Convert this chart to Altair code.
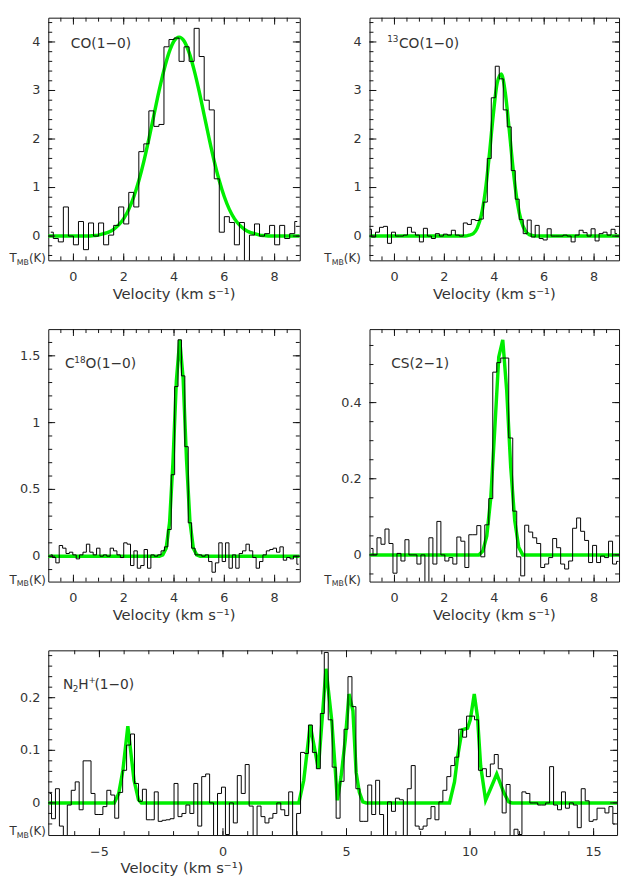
import altair as alt
import pandas as pd

FONT = "DejaVu Sans"
TXT = "#333333"
INK = "#111111"
GREEN = "#00ee00"

# ---------------- spectra ----------------
# channel centres are V0 + i*DV ; T = main-beam temperature (K)
CO_V0, CO_DV = -0.9, 0.2
CO_T = [0.08, -0.05, -0.12, 0.6, 0.0, -0.18, 0.3, -0.28, 0.27, 0.0,
        0.27, -0.18, 0.02, 0.22, 0.6, 0.25, 0.9, 0.6, 1.74, 1.9,
        2.58, 2.26, 2.3, 3.9, 4.05, 4.08, 3.6, 3.9, 3.6, 4.28,
        3.7, 2.8, 2.6, 1.18, 0.08, 0.4, 0.28, -0.18, 0.28, -0.6,
        0.02, 0.25, 0.0, 0.05, 0.22, -0.18, 0.22, -0.05, 0.05, 0.3]
CO_FIT_V = [-1.0, 0.6, 0.8, 1.0, 1.2, 1.4, 1.6, 1.8, 2.0, 2.2, 2.4, 2.6, 2.8,
            3.0, 3.2, 3.4, 3.6, 3.8, 4.0, 4.2, 4.4, 4.6, 4.8, 5.0, 5.2, 5.4,
            5.6, 5.8, 6.0, 6.2, 6.4, 6.6, 6.8, 7.0, 7.2, 7.4, 7.6, 7.8, 9.0]
CO_FIT_T = [0.0, 0.0, 0.01, 0.02, 0.05, 0.08, 0.14, 0.23, 0.36, 0.55, 0.81, 1.14, 1.54,
            2.00, 2.49, 2.98, 3.42, 3.78, 4.02, 4.10, 4.02, 3.78, 3.42, 2.98, 2.49, 2.00,
            1.54, 1.14, 0.81, 0.55, 0.36, 0.23, 0.14, 0.08, 0.05, 0.02, 0.01, 0.0, 0.0]

C13O_V0, C13O_DV = -1.0, 0.16
C13O_T = [0.14, -0.02, 0.08, 0.18, 0.2, -0.15, 0.08, 0.0, 0.0, 0.02,
          0.18, 0.08, 0.02, -0.12, 0.16, 0.0, -0.05, 0.05, 0.0, 0.04,
          0.02, 0.12, 0.02, 0.0, 0.27, 0.24, 0.34, 0.32, 0.35, 0.7,
          1.6, 2.85, 3.5, 3.24, 2.6, 2.25, 1.35, 0.76, 0.34, 0.05,
          0.33, -0.02, 0.22, -0.05, -0.08, 0.15, 0.0, 0.0, 0.0, 0.02,
          0.0, -0.12, 0.02, 0.12, 0.07, 0.0, 0.15, -0.1, 0.05, 0.08,
          0.02, 0.14, 0.05]
C13O_FIT_V = [-1.0, 2.84, 3.00, 3.16, 3.32, 3.48, 3.64, 3.80, 3.96, 4.12, 4.28,
              4.44, 4.60, 4.76, 4.92, 5.08, 5.24, 5.40, 5.56, 5.72, 9.0]
C13O_FIT_T = [0.0, 0.0, 0.02, 0.05, 0.17, 0.43, 0.92, 1.66, 2.50, 3.16, 3.34,
              2.96, 2.19, 1.36, 0.71, 0.31, 0.11, 0.03, 0.01, 0.0, 0.0]

C18O_V0, C18O_DV = -0.9025, 0.135
C18O_T = [0.01, -0.01, -0.05, 0.08, 0.06, 0.02, 0.03, 0.01, -0.02, 0.01,
          0.03, 0.09, 0.03, 0.01, 0.06, 0.0, 0.01, 0.0, 0.06, 0.04,
          0.01, -0.01, 0.1, 0.09, -0.07, 0.04, -0.09, -0.07, 0.05, -0.09,
          0.01, 0.0, 0.01, 0.04, 0.07, 0.2, 0.61, 1.27, 1.62, 1.35,
          0.82, 0.25, 0.06, 0.01, 0.01, 0.0, 0.01, -0.04, -0.12, -0.05,
          0.1, -0.04, 0.1, -0.09, 0.01, -0.09, 0.02, 0.04, 0.09, 0.04,
          -0.01, -0.09, -0.04, 0.01, 0.04, 0.05, 0.06, 0.03, 0.07, -0.03,
          -0.01, -0.02, 0.0, -0.06]
C18O_FIT_V = [-1.0, 3.4175, 3.5525, 3.6875, 3.8225, 3.9575, 4.0925, 4.2275,
              4.3625, 4.4975, 4.6325, 4.7675, 4.9025, 5.0375, 9.0]
C18O_FIT_T = [0.0, 0.0, 0.01, 0.06, 0.25, 0.70, 1.31, 1.62,
              1.33, 0.72, 0.26, 0.06, 0.01, 0.0, 0.0]

CS_V0, CS_DV = -0.94, 0.16
CS_T = [0.017, 0.0, 0.045, 0.028, 0.068, 0.03, -0.048, 0.004, -0.016, 0.04,
        0.0, 0.0, -0.024, 0.0, -0.08, 0.045, -0.024, 0.088, 0.0, -0.016,
        -0.007, -0.024, 0.047, 0.036, -0.033, 0.053, 0.053, 0.077, -0.005, 0.079,
        0.148, 0.48, 0.505, 0.517, 0.517, 0.307, 0.115, -0.005, -0.055, 0.078,
        0.06, 0.045, 0.03, -0.033, -0.024, -0.007, 0.043, 0.019, -0.024, -0.037,
        -0.016, 0.07, 0.097, 0.062, 0.038, -0.02, 0.025, -0.02, -0.003, -0.007,
        0.036, -0.024, -0.017]
CS_FIT_V = [-1.0, 3.38, 3.54, 3.70, 3.86, 4.02, 4.18, 4.34, 4.50, 4.66, 4.82, 4.98, 5.14, 9.0]
CS_FIT_T = [0.0, 0.0, 0.01, 0.05, 0.15, 0.33, 0.52, 0.565, 0.43, 0.23, 0.09, 0.02, 0.0, 0.0]

N2H_V0, N2H_DV = -7.02, 0.16
N2H_T = [0.018, -0.03, 0.027, -0.044, -0.07, -0.004, 0.024, 0.04, -0.013, 0.08,
         0.08, 0.018, -0.022, -0.022, -0.007, 0.024, 0.015, -0.029, 0.02, 0.062,
         0.11, 0.131, 0.037, 0.003, 0.026, -0.032, -0.032, 0.021, -0.035, -0.033,
         -0.032, -0.03, 0.037, -0.026, -0.02, -0.004, -0.02, 0.037, -0.044, 0.05,
         0.055, 0.0, -0.07, 0.018, 0.03, -0.06, 0.0, -0.038, 0.052, 0.018,
         0.073, -0.006, -0.08, -0.006, -0.026, -0.038, -0.029, -0.02, 0.0, -0.013,
         -0.024, 0.021, -0.07, -0.02, 0.096, 0.094, 0.148, 0.096, 0.065, 0.17,
         0.286, 0.158, 0.068, -0.029, 0.041, 0.14, 0.24, 0.183, 0.027, -0.035,
         -0.035, 0.034, -0.022, 0.043, -0.022, -0.07, 0.002, -0.016, 0.009, 0.006,
         -0.07, 0.027, 0.071, -0.044, -0.05, -0.044, -0.03, -0.007, -0.032, 0.002,
         0.024, 0.05, 0.071, 0.087, 0.14, 0.125, 0.165, 0.165, 0.158, 0.062,
         0.065, 0.05, 0.074, 0.092, 0.065, -0.019, 0.035, -0.07, -0.05, -0.06,
         0.021, 0.018, 0.0, 0.0, -0.004, -0.004, 0.0, 0.069, -0.004, -0.013,
         0.021, -0.01, 0.0, -0.004, -0.047, 0.027, 0.004, -0.035, -0.032, -0.01,
         -0.01, -0.019, -0.007, -0.04]
N2H_FIT_V = [-7.07, -4.40, -4.22, -4.05, -3.85, -3.60, -3.42, -3.30,
             3.07, 3.27, 3.53, 3.86, 4.17, 4.40, 4.535, 4.63, 4.78, 4.95, 5.10,
             5.26, 5.39, 5.52, 5.66, 5.80,
             9.17, 9.37, 9.50, 9.68, 9.90, 10.01, 10.17, 10.30, 10.43, 10.63,
             10.83, 11.08, 11.36, 11.56, 11.70, 15.95]
N2H_FIT_T = [0.0, 0.0, 0.018, 0.062, 0.146, 0.043, 0.006, 0.0,
             0.0, 0.043, 0.148, 0.065, 0.255, 0.158, 0.07, 0.005, 0.05, 0.12, 0.207,
             0.175, 0.058, 0.02, 0.002, 0.0,
             0.0, 0.04, 0.089, 0.139, 0.142, 0.158, 0.207, 0.164, 0.07, 0.005,
             0.027, 0.055, 0.02, 0.002, 0.0, 0.0]

# tick labels
X_LAB = [0, 2, 4, 6, 8]
N2H_X_LAB = [-5, 0, 5, 10, 15]
CO_Y_LAB = [0, 1, 2, 3, 4]
C18O_Y_LAB = [0, 0.5, 1, 1.5]
CS_Y_LAB = [0, 0.2, 0.4]
N2H_Y_LAB = [0, 0.1, 0.2]

ONE = pd.DataFrame({"k": [0]})


def centres(v0, dv, n):
    return [round(v0 + dv * i, 4) for i in range(n)]


def ticks_between(lo, hi, step):
    n = int(round((hi - lo) / step))
    return [round(lo + step * i, 4) for i in range(n + 1)]


def fmt(v):
    return f"{v:g}".replace("-", "\u2212")


def txt(s, x, y, size, align="left"):
    return alt.Chart(ONE).mark_text(
        text=s, font=FONT, fontSize=size, color=TXT, align=align, baseline="alphabetic"
    ).encode(x=alt.value(x), y=alt.value(y))


def panel(v, t, fv, ft, interp, xdom, ydom, W, H, xmaj, xmin, ymaj, ymin,
          label_parts, ly, title_x, tmb_x, tmb_y, box):
    xs = alt.Scale(domain=xdom, nice=False, zero=False)
    ys = alt.Scale(domain=ydom, nice=False, zero=False)
    Xn = alt.X("v:Q", scale=xs, axis=None)
    Yn = alt.Y("t:Q", scale=ys, axis=None)
    fit = alt.Chart(pd.DataFrame({"v": fv, "t": ft})).mark_line(
        color=GREEN, strokeWidth=3.5, interpolate=interp, clip=True).encode(x=Xn, y=Yn)
    hist = alt.Chart(pd.DataFrame({"v": v, "t": t})).mark_line(
        color="#000000", strokeWidth=1, interpolate="step", clip=True).encode(x=Xn, y=Yn)
    layers = [fit, hist]
    # inward ticks on all four sides
    for vals, L in ((xmaj, 7), (xmin, 4)):
        d = pd.DataFrame({"v": vals})
        layers.append(alt.Chart(d).mark_rule(color=INK, strokeWidth=1).encode(
            x=Xn, y=alt.value(H), y2=alt.value(H - L)))
        layers.append(alt.Chart(d).mark_rule(color=INK, strokeWidth=1).encode(
            x=Xn, y=alt.value(0), y2=alt.value(L)))
    for vals, L in ((ymaj, 7), (ymin, 4)):
        d = pd.DataFrame({"t": vals})
        layers.append(alt.Chart(d).mark_rule(color=INK, strokeWidth=1).encode(
            y=Yn, x=alt.value(0), x2=alt.value(L)))
        layers.append(alt.Chart(d).mark_rule(color=INK, strokeWidth=1).encode(
            y=Yn, x=alt.value(W), x2=alt.value(W - L)))
    # tick labels through the scales
    xl = pd.DataFrame({"v": xmaj, "s": [fmt(a) for a in xmaj]})
    layers.append(alt.Chart(xl).mark_text(
        font=FONT, fontSize=13, color=TXT, align="center", baseline="top").encode(
        x=Xn, y=alt.value(H + 11), text="s:N"))
    yl = pd.DataFrame({"t": ymaj, "s": [fmt(a) for a in ymaj]})
    layers.append(alt.Chart(yl).mark_text(
        font=FONT, fontSize=13, color=TXT, align="right", baseline="middle").encode(
        y=Yn, x=alt.value(-8), text="s:N"))
    # species label (pieces: text, x, dy, size)
    for s, x, dy, size in label_parts:
        layers.append(txt(s, x, ly + dy, size))
    layers += [
        txt("Velocity (km s\u207b\u00b9)", title_x, H + 39, 15, align="center"),
        txt("T", tmb_x, H + tmb_y, 12),
        txt("MB", tmb_x + 7.5, H + tmb_y + 3, 8),
        txt("(K)", tmb_x + 19.9, H + tmb_y, 12),
    ]
    l, tp, r, b = box
    layers.append(alt.Chart(ONE).mark_rule(strokeOpacity=0, color="white").encode(
        x=alt.value(l), y=alt.value(tp), x2=alt.value(r), y2=alt.value(b)))
    return alt.layer(*layers).properties(width=W, height=H)


XMIN = ticks_between(-0.5, 8.5, 0.5)

p1 = panel(centres(CO_V0, CO_DV, len(CO_T)), CO_T, CO_FIT_V, CO_FIT_T, "monotone",
           [-1, 9], [-0.5, 4.5], 256, 247, X_LAB, XMIN, CO_Y_LAB,
           ticks_between(-0.4, 4.4, 0.2),
           [("CO(1\u22120)", 23, 0, 14)], 31, 128, -39.5, 2,
           (-40, -1, 277, 314))
p2 = panel(centres(C13O_V0, C13O_DV, len(C13O_T)), C13O_T, C13O_FIT_V, C13O_FIT_T, "monotone",
           [-1, 9], [-0.5, 4.5], 254, 247, X_LAB, XMIN, CO_Y_LAB,
           ticks_between(-0.4, 4.4, 0.2),
           [("13", 18, -6, 9), ("CO(1\u22120)", 30, 0, 14)], 31, 127, -46, 2,
           (-48, -1, 255, 314))
p3 = panel(centres(C18O_V0, C18O_DV, len(C18O_T)), C18O_T, C18O_FIT_V, C18O_FIT_T, "linear",
           [-1, 9], [-0.19, 1.7], 256, 257, X_LAB, XMIN, C18O_Y_LAB,
           ticks_between(-0.1, 1.6, 0.1),
           [("C", 17, 0, 14), ("18", 26.5, -6, 9), ("O(1\u22120)", 38, 0, 14)], 40, 128, -39.5, 2,
           (-40, -1, 277, 324))
p4 = panel(centres(CS_V0, CS_DV, len(CS_T)), CS_T, CS_FIT_V, CS_FIT_T, "linear",
           [-1, 9], [-0.07, 0.593], 254, 257, X_LAB, XMIN, CS_Y_LAB,
           ticks_between(-0.05, 0.55, 0.05),
           [("CS(2\u22121)", 22, 0, 14)], 40, 127, -46, 2,
           (-48, -1, 255, 324))
p5 = panel(centres(N2H_V0, N2H_DV, len(N2H_T)), N2H_T, N2H_FIT_V, N2H_FIT_T, "linear",
           [-7.07, 15.95], [-0.061, 0.29], 579, 188, N2H_X_LAB, ticks_between(-6, 15, 1),
           N2H_Y_LAB, ticks_between(-0.04, 0.28, 0.02),
           [("N", 15, 0, 14), ("2", 25, 3, 9), ("H", 30.5, 0, 14), ("+", 41, -6, 9),
            ("(1\u22120)", 47, 0, 14)], 39, 136, -39.5, 0,
           (-40, -1, 580, 228))

row1 = alt.hconcat(p1, p2, spacing=0)
row2 = alt.hconcat(p3, p4, spacing=0)
chart = (
    alt.vconcat(row1, row2, p5, spacing=0)
    .properties(padding=0, background="white")
    .configure_view(stroke=INK, strokeWidth=1)
)

chart.save("out.html", embed_options={"renderer": "svg", "actions": False})
